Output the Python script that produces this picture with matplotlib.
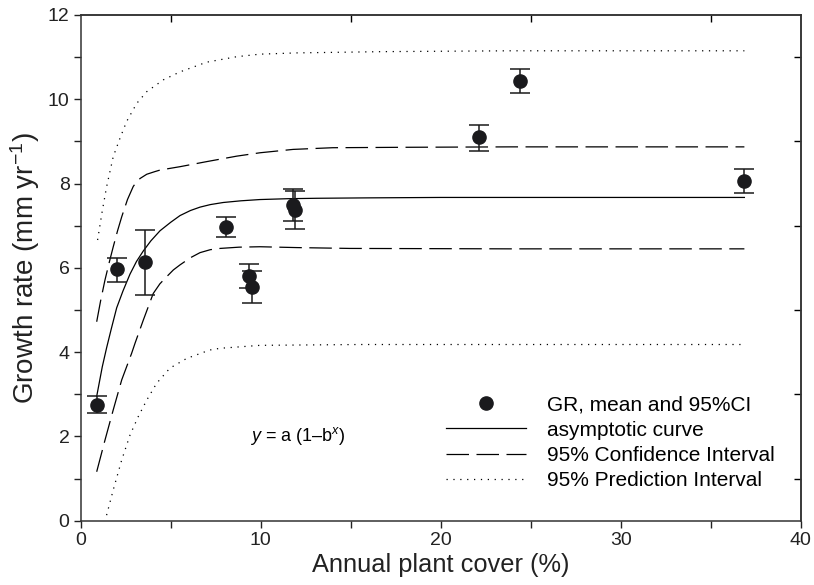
import matplotlib
matplotlib.use("Agg")
import matplotlib.pyplot as plt
from matplotlib.ticker import MultipleLocator

plt.rcParams['font.family'] = ['Liberation Sans', 'DejaVu Sans']
plt.rcParams['mathtext.fontset'] = 'custom'
plt.rcParams['mathtext.rm'] = 'Liberation Sans'
plt.rcParams['mathtext.it'] = 'Liberation Sans:italic'

# growth rate means with 95% CI
gr_x = [0.89, 2.03, 3.57, 8.06, 9.35, 9.53, 11.80, 11.90, 22.10, 24.40, 36.87]
gr_y = [2.74, 5.96, 6.13, 6.98, 5.81, 5.55, 7.50, 7.37, 9.10, 10.43, 8.06]
ci_lo = [2.55, 5.67, 5.36, 6.74, 5.52, 5.17, 7.12, 6.91, 8.78, 10.15, 7.78]
ci_hi = [2.96, 6.23, 6.90, 7.20, 6.09, 5.92, 7.86, 7.82, 9.39, 10.71, 8.34]

# asymptotic curve y = a(1-b^x)
fit_x = [0.89, 1.2, 1.44, 1.7, 2.0, 2.35, 2.74, 3.1, 3.48, 3.9, 4.41, 5.0, 5.52,
         6.1, 6.63, 7.2, 7.92, 8.9, 9.96, 11.5, 13.1, 16.0, 20.0, 36.87]
fit_y = [2.95, 3.65, 4.10, 4.55, 5.05, 5.45, 5.85, 6.15, 6.40, 6.64, 6.88, 7.08, 7.24,
         7.36, 7.44, 7.50, 7.55, 7.59, 7.62, 7.64, 7.65, 7.66, 7.67, 7.67]

# 95% confidence interval
ciu_x = [0.89, 1.1, 1.35, 1.6, 1.81, 2.05, 2.28, 2.6, 2.92, 3.02, 3.3, 3.67, 4.1,
         4.41, 5.52, 7.0, 8.67, 9.96, 11.8, 14.0, 18.0, 23.85, 36.87]
ciu_y = [4.72, 5.20, 5.71, 6.15, 6.50, 6.88, 7.21, 7.62, 7.93, 7.99, 8.12, 8.22, 8.28,
         8.32, 8.40, 8.52, 8.65, 8.73, 8.81, 8.85, 8.86, 8.87, 8.87]
cil_x = [0.89, 1.35, 1.81, 2.28, 2.83, 3.02, 3.48, 4.03, 4.4, 4.78, 5.15, 5.52, 6.1,
         6.63, 7.2, 7.74, 8.8, 9.96, 12.0, 14.96, 23.85, 36.87]
cil_y = [1.16, 1.91, 2.63, 3.34, 3.97, 4.21, 4.76, 5.39, 5.62, 5.79, 5.95, 6.07, 6.24,
         6.36, 6.43, 6.46, 6.49, 6.50, 6.48, 6.46, 6.45, 6.45]

# 95% prediction interval
piu_x = [0.94, 1.2, 1.44, 1.81, 2.18, 2.55, 3.11, 3.67, 4.59, 5.52, 7.0, 8.67, 9.96,
         12.0, 16.8, 23.85, 36.87]
piu_y = [6.66, 7.35, 7.92, 8.64, 9.07, 9.47, 9.90, 10.18, 10.46, 10.65, 10.88, 11.01,
         11.07, 11.10, 11.13, 11.15, 11.15]
pil_x = [1.44, 1.81, 2.28, 2.74, 3.2, 3.67, 4.22, 4.96, 5.89, 7.18, 7.74, 9.96, 15.5, 36.87]
pil_y = [0.13, 0.73, 1.44, 2.03, 2.47, 2.86, 3.26, 3.62, 3.85, 4.05, 4.09, 4.16, 4.18, 4.18]

fig = plt.figure(figsize=(8.14, 5.85), dpi=100)
ax = fig.add_axes([0.0991, 0.110, 0.8846, 0.8644])

dash = (18, 6)
dot = (1, 4.5)
ax.plot(fit_x, fit_y, color='black', lw=0.9, label='asymptotic curve')
ax.plot(ciu_x, ciu_y, color='black', lw=0.9, dashes=dash, label='95% Confidence Interval')
ax.plot(cil_x, cil_y, color='black', lw=0.9, dashes=dash)
ax.plot(piu_x, piu_y, color='black', lw=0.9, dashes=dot, label='95% Prediction Interval')
ax.plot(pil_x, pil_y, color='black', lw=0.9, dashes=dot)

err = [[m - lo for m, lo in zip(gr_y, ci_lo)], [hi - m for m, hi in zip(gr_y, ci_hi)]]
ax.errorbar(gr_x, gr_y, yerr=err, fmt='none', ecolor='#1a1a1a', elinewidth=1.1,
            capsize=7, capthick=1.1, zorder=3)
pts, = ax.plot(gr_x, gr_y, 'o', color='#1a1a1d', ms=9.5, zorder=4,
               label='GR, mean and 95%CI')

ax.text(9.4, 2.0, '$y$ = a (1\u2013b$^{x}$)', fontsize=13, va='center', ha='left')

handles, labels = ax.get_legend_handles_labels()
order = [labels.index('GR, mean and 95%CI'), labels.index('asymptotic curve'),
         labels.index('95% Confidence Interval'), labels.index('95% Prediction Interval')]
ax.legend([handles[i] for i in order], [labels[i] for i in order],
          loc='center left', bbox_to_anchor=(0.507, 0.154), frameon=False,
          fontsize=15, handlelength=3.85, handletextpad=1.0, labelspacing=0.29,
          borderpad=0, borderaxespad=0)

ax.set_xlim(0, 40)
ax.set_ylim(0, 12)
ax.xaxis.set_major_locator(MultipleLocator(10))
ax.xaxis.set_minor_locator(MultipleLocator(5))
ax.yaxis.set_major_locator(MultipleLocator(2))
ax.yaxis.set_minor_locator(MultipleLocator(1))
ax.tick_params(which='both', direction='out', length=5, width=1, labelsize=14,
               colors='#222222')
ax.tick_params(which='major', pad=3)

# top and right: inward ticks at odd positions only
top = ax.secondary_xaxis('top')
top.set_xticks([5, 15, 25, 35])
top.tick_params(direction='in', length=5, width=1, labeltop=False)
right = ax.secondary_yaxis('right')
right.set_yticks([1, 3, 5, 7, 9, 11])
right.tick_params(direction='in', length=5, width=1, labelright=False)

for s in list(ax.spines.values()) + [top.spines['top'], right.spines['right']]:
    s.set_linewidth(1.1)
    s.set_color('#333333')

ax.set_xlabel('Annual plant cover (%)', fontsize=18.3, labelpad=3, color='#222222')
ax.set_ylabel('Growth rate (mm yr$^{\u22121}$)', fontsize=20, labelpad=4, color='#222222')

fig.savefig('out.png', dpi=100)
